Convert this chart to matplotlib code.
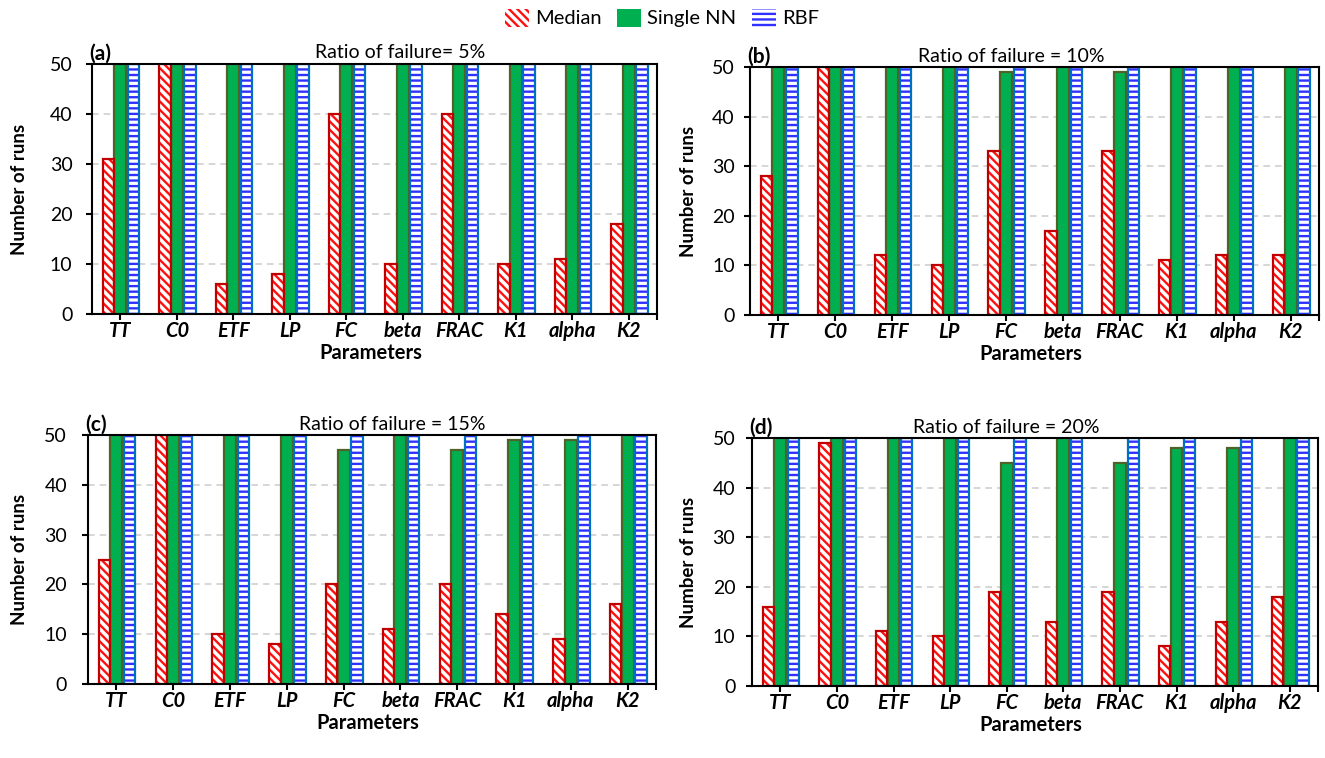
import matplotlib
matplotlib.use("Agg")
import matplotlib.pyplot as plt
from matplotlib.patches import Patch
import numpy as np

plt.rcParams['font.family'] = ['Lato', 'DejaVu Sans']
plt.rcParams['hatch.linewidth'] = 1.7

params = ["TT", "C0", "ETF", "LP", "FC", "beta", "FRAC", "K1", "alpha", "K2"]
series_names = ["Median", "Single NN", "RBF"]
panel_labels = ["(a)", "(b)", "(c)", "(d)"]
titles = ["Ratio of failure= 5%", "Ratio of failure = 10%",
          "Ratio of failure = 15%", "Ratio of failure = 20%"]

median_a = [31, 50, 6, 8, 40, 10, 40, 10, 11, 18]
nn_a     = [50, 50, 50, 50, 50, 50, 50, 50, 50, 50]
rbf_a    = [50, 50, 50, 50, 50, 50, 50, 50, 50, 50]

median_b = [28, 50, 12, 10, 33, 17, 33, 11, 12, 12]
nn_b     = [50, 50, 50, 50, 49, 50, 49, 50, 50, 50]
rbf_b    = [50, 50, 50, 50, 50, 50, 50, 50, 50, 50]

median_c = [25, 50, 10, 8, 20, 11, 20, 14, 9, 16]
nn_c     = [50, 50, 50, 50, 47, 50, 47, 49, 49, 50]
rbf_c    = [50, 50, 50, 50, 50, 50, 50, 50, 50, 50]

median_d = [16, 49, 11, 10, 19, 13, 19, 8, 13, 18]
nn_d     = [50, 50, 50, 50, 45, 50, 45, 48, 48, 50]
rbf_d    = [50, 50, 50, 50, 50, 50, 50, 50, 50, 50]

yticks = [0, 10, 20, 30, 40, 50]

panels = [(median_a, nn_a, rbf_a), (median_b, nn_b, rbf_b),
          (median_c, nn_c, rbf_c), (median_d, nn_d, rbf_d)]

W, H = 1325, 758
fig = plt.figure(figsize=(W / 100, H / 100), dpi=100)

# axes boxes in pixels: left, right, top, bottom
boxes = [(92, 657, 64, 314), (750, 1319, 67, 315),
         (88, 656, 435, 684), (752, 1318, 438, 686)]
title_x = [0.545, 0.46, 0.535, 0.45]
ylabel_px = [20, 688, 20, 688]
ypads = [10, 7, 11, 8]

RED = '#FF1010'
RED_EDGE = '#C00000'
GREEN = '#00B050'
GREEN_EDGE = '#4F6228'
BLUE_H = '#3030FF'
BLUE_EDGE = '#0070C0'

w = 0.2
x = np.arange(len(params))

for i, ((med, nn, rbf), (l, r, t, b)) in enumerate(zip(panels, boxes)):
    ax = fig.add_axes([l / W, 1 - b / H, (r - l) / W, (b - t) / H])
    ax.set_axisbelow(True)
    ax.yaxis.grid(True, linestyle=(0, (4, 3)), color='#D0D0D0', linewidth=1.2)
    # Median
    ax.bar(x - 0.21, med, w, facecolor='white', edgecolor=RED, hatch='\\\\\\\\', linewidth=0, zorder=2)
    ax.bar(x - 0.21, med, w, fill=False, edgecolor=RED_EDGE, linewidth=1.6, zorder=3)
    # Single NN
    ax.bar(x, nn, w + 0.01, facecolor=GREEN, edgecolor=GREEN_EDGE, linewidth=1.6, zorder=2)
    # RBF
    ax.bar(x + 0.235, rbf, w, facecolor='white', edgecolor=BLUE_H, hatch='---', linewidth=0, zorder=2)
    ax.bar(x + 0.235, rbf, w, fill=False, edgecolor=BLUE_EDGE, linewidth=1.6, zorder=3)

    ax.set_xlim(-0.5, len(params) - 0.5)
    ax.set_ylim(0, 50)
    ax.set_yticks(yticks)
    ax.set_xticks(x)
    ax.set_xticks([len(params) - 0.5], minor=True)
    ax.set_xticklabels(params, fontsize=14.5, fontweight='bold', fontstyle='italic')
    ax.tick_params(axis='y', labelsize=14, length=4, width=1.5, pad=ypads[i])
    ax.tick_params(axis='x', which='both', length=4, width=1.5, pad=1)
    for s in ax.spines.values():
        s.set_linewidth(1.5)
        s.set_color('black')
        s.set_zorder(5)

    ax.text(title_x[i], 1.01, titles[i], transform=ax.transAxes, ha='center',
            va='bottom', fontsize=14)
    ax.text(-0.005, 1.0, panel_labels[i], transform=ax.transAxes, ha='left',
            va='bottom', fontsize=15, fontweight='bold')
    # y label
    fig.text(ylabel_px[i] / W, 1 - (t + b) / 2 / H, "Number of runs", rotation=90,
             ha='center', va='center', fontsize=13.5, fontweight='bold')
    # x label
    fig.text(((l + r) / 2 - 4) / W, 1 - (b + 39) / H, "Parameters",
             ha='center', va='center', fontsize=14.5, fontweight='bold')

handles = [Patch(facecolor='white', edgecolor=RED, hatch='\\\\\\\\', linewidth=0),
           Patch(facecolor=GREEN, edgecolor=GREEN, linewidth=0),
           Patch(facecolor='white', edgecolor=BLUE_H, hatch='---', linewidth=0)]
fig.legend(handles, series_names, loc='center', bbox_to_anchor=(662 / W, 1 - 18 / H),
           ncol=3, frameon=False, fontsize=14.5, handlelength=1.2, handleheight=1.0,
           columnspacing=0.75, handletextpad=0.3)

fig.savefig("out.png", dpi=100)
